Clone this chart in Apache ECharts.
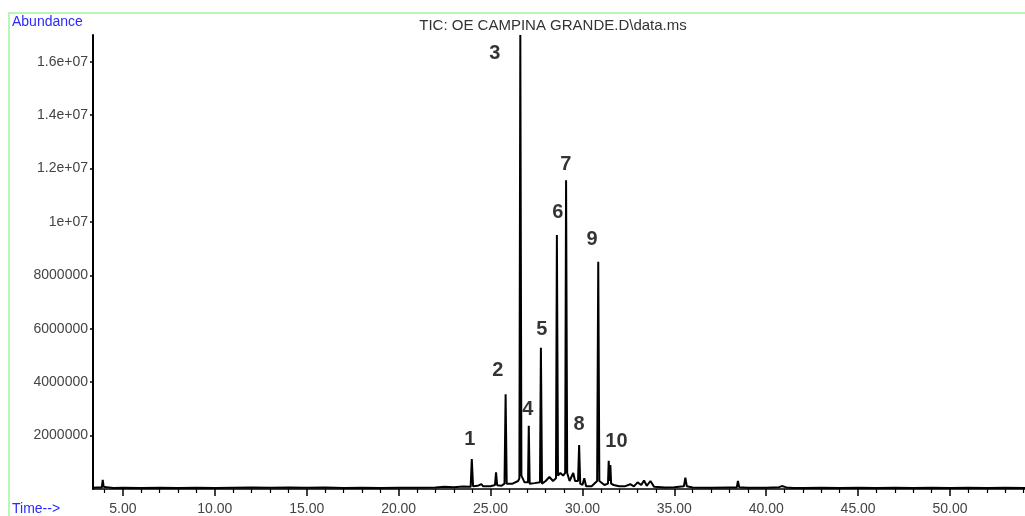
<!DOCTYPE html>
<html>
<head>
<meta charset="utf-8">
<script src="https://cdn.jsdelivr.net/npm/echarts@6/dist/echarts.min.js"></script>
<style>
html,body{margin:0;padding:0;background:#fff;}
#chart{width:1025px;height:516px;}
</style>
</head>
<body>
<div id="chart"></div>
<script>
// Retention time (min)
var times = [
  3.37, 3.60, 3.85, 3.90, 3.95, 4.10, 4.50, 5.00, 6.00, 7.00, 8.00, 9.00, 10.00,
  11.00, 12.00, 13.00, 14.00, 15.00, 16.00, 17.00, 18.00, 19.00, 20.00, 21.00,
  22.00, 22.50, 23.00, 23.50, 23.92, 23.98, 24.05, 24.30, 24.50, 24.60, 25.00,
  25.24, 25.30, 25.36, 25.60, 25.76, 25.82, 25.88, 26.20, 26.50, 26.57, 26.62,
  26.68, 26.85, 27.04, 27.08, 27.13, 27.40, 27.69, 27.74, 27.80, 28.00, 28.20,
  28.40, 28.56, 28.61, 28.67, 28.80, 28.95, 29.06, 29.11, 29.17, 29.30, 29.50,
  29.60, 29.76, 29.82, 29.88, 30.00, 30.10, 30.20, 30.50, 30.80, 30.86, 30.92,
  31.20, 31.39, 31.43, 31.47, 31.52, 31.56, 31.70, 32.00, 32.30, 32.60, 32.80, 33.00,
  33.20, 33.35, 33.50, 33.70, 33.90, 34.50, 35.00, 35.52, 35.60, 35.68, 36.00,
  37.00, 38.00, 38.40, 38.46, 38.53, 39.00, 40.00, 40.70, 40.85, 41.10, 41.50, 42.00, 43.00,
  44.00, 45.00, 46.00, 47.00, 48.00, 49.00, 50.00, 51.00, 52.00, 53.00, 54.08
];
// Abundance (counts)
var abundance = [
  50000, 60000, 60000, 340000, 80000, 70000, 40000, 50000, 40000, 50000, 40000, 50000, 40000,
  50000, 60000, 50000, 60000, 50000, 60000, 40000, 50000, 40000, 50000, 50000,
  60000, 80000, 70000, 90000, 80000, 1120000, 100000, 120000, 180000, 100000, 100000,
  150000, 620000, 140000, 120000, 200000, 3550000, 200000, 200000, 300000, 400000, 17000000,
  500000, 250000, 250000, 2370000, 200000, 220000, 250000, 5290000, 200000, 300000, 450000,
  300000, 400000, 9510000, 500000, 600000, 500000, 600000, 11560000, 600000, 300000, 600000,
  300000, 300000, 1650000, 200000, 150000, 400000, 100000, 100000, 300000, 8510000, 300000,
  150000, 200000, 1060000, 300000, 900000, 200000, 150000, 100000, 100000, 180000, 100000, 250000,
  150000, 320000, 120000, 300000, 80000, 60000, 70000, 100000, 420000, 100000, 60000,
  50000, 60000, 60000, 300000, 70000, 50000, 50000, 70000, 110000, 60000, 40000, 40000, 50000,
  40000, 50000, 40000, 50000, 40000, 50000, 40000, 50000, 40000, 50000, 40000
];
// Peak numbers and where their labels sit (time, abundance)
var peakNames = ['1','2','3','4','5','6','7','8','9','10'];
var peakLabelTimes = [23.87, 25.40, 25.23, 27.03, 27.79, 28.66, 29.10, 29.81, 30.52, 31.85];
var peakLabelAbund = [1840000, 4420000, 16300000, 2960000, 5990000, 10370000, 12170000, 2430000, 9330000, 1780000];
// Axis ticks
var xMajorTicks = [5, 10, 15, 20, 25, 30, 35, 40, 45, 50];
var xMinorTicks = [4,6,7,8,9,11,12,13,14,16,17,18,19,21,22,23,24,26,27,28,29,31,32,33,34,36,37,38,39,41,42,43,44,46,47,48,49,51,52,53,54];
var yTicks = [2000000, 4000000, 6000000, 8000000, 10000000, 12000000, 14000000, 16000000];

var xMin = 3.37, xMax = 54.08, yMax = 17000000;

var traceData = times.map(function (t, i) { return [t, abundance[i]]; });
var labelData = peakNames.map(function (n, i) { return [peakLabelTimes[i], peakLabelAbund[i], n]; });

function yFmt(v) {
  if (v >= 10000000) {
    var m = v / 10000000;
    return (Math.round(m * 10) / 10) + 'e+07';
  }
  return String(v);
}

var FONT = '"Liberation Sans", Arial, sans-serif';
var chart = echarts.init(document.getElementById('chart'), null, {renderer: 'canvas'});
chart.setOption({
  animation: false,
  backgroundColor: '#ffffff',
  graphic: [
    {type: 'rect', shape: {x: 9, y: 13, width: 1100, height: 600},
     style: {fill: 'none', stroke: '#b8f7b8', lineWidth: 2}, silent: true, z: -1},
    {type: 'text', x: 12, y: 22,
     style: {text: 'Abundance', fill: '#2a2aff', fontSize: 14, fontFamily: FONT, verticalAlign: 'middle'}},
    {type: 'text', x: 12, y: 509,
     style: {text: 'Time-->', fill: '#2a2aff', fontSize: 14, fontFamily: FONT, verticalAlign: 'middle'}},
    {type: 'text', x: 553, y: 26,
     style: {text: 'TIC: OE CAMPINA GRANDE.D\\data.ms', fill: '#333', fontSize: 15, fontFamily: FONT,
       align: 'center', verticalAlign: 'middle'}}
  ],
  grid: [
    {left: 93, right: 0, top: 35, bottom: 27},
    {left: 93, right: 0, top: 35, bottom: 27}
  ],
  xAxis: [
    {
      type: 'value', gridIndex: 0, min: xMin, max: xMax,
      axisLine: {show: true, lineStyle: {color: '#000', width: 1.5}},
      axisTick: {show: true, customValues: xMajorTicks, length: 7, lineStyle: {color: '#000', width: 1.5}},
      axisLabel: {show: true, customValues: xMajorTicks, margin: 13, color: '#444', fontSize: 14,
        fontFamily: FONT, formatter: function (v) { return v.toFixed(2); }},
      splitLine: {show: false}
    },
    {
      type: 'value', gridIndex: 1, min: xMin, max: xMax,
      axisLine: {show: false},
      axisTick: {show: true, customValues: xMinorTicks, length: 4, lineStyle: {color: '#000', width: 1.2}},
      axisLabel: {show: false},
      splitLine: {show: false}
    }
  ],
  yAxis: [
    {
      type: 'value', gridIndex: 0, min: 0, max: yMax,
      axisLine: {show: true, lineStyle: {color: '#000', width: 2}},
      axisTick: {show: true, customValues: yTicks, length: 3, lineStyle: {color: '#000', width: 1.5}},
      axisLabel: {show: true, customValues: yTicks, margin: 5, color: '#444', fontSize: 14,
        fontFamily: FONT, formatter: yFmt},
      splitLine: {show: false}
    },
    {
      type: 'value', gridIndex: 1, min: 0, max: yMax, show: false
    }
  ],
  series: [
    {
      type: 'line', xAxisIndex: 0, yAxisIndex: 0, data: traceData,
      showSymbol: false, symbol: 'none',
      lineStyle: {color: '#000', width: 2}, z: 3
    },
    {
      type: 'scatter', xAxisIndex: 0, yAxisIndex: 0, data: labelData,
      symbolSize: 0, silent: true,
      label: {show: true, position: 'inside', formatter: function (p) { return p.value[2]; },
        color: '#000000', textBorderWidth: 0, fontSize: 20, fontWeight: 'bolder', fontFamily: FONT},
      z: 4
    }
  ]
});
</script>
</body>
</html>
